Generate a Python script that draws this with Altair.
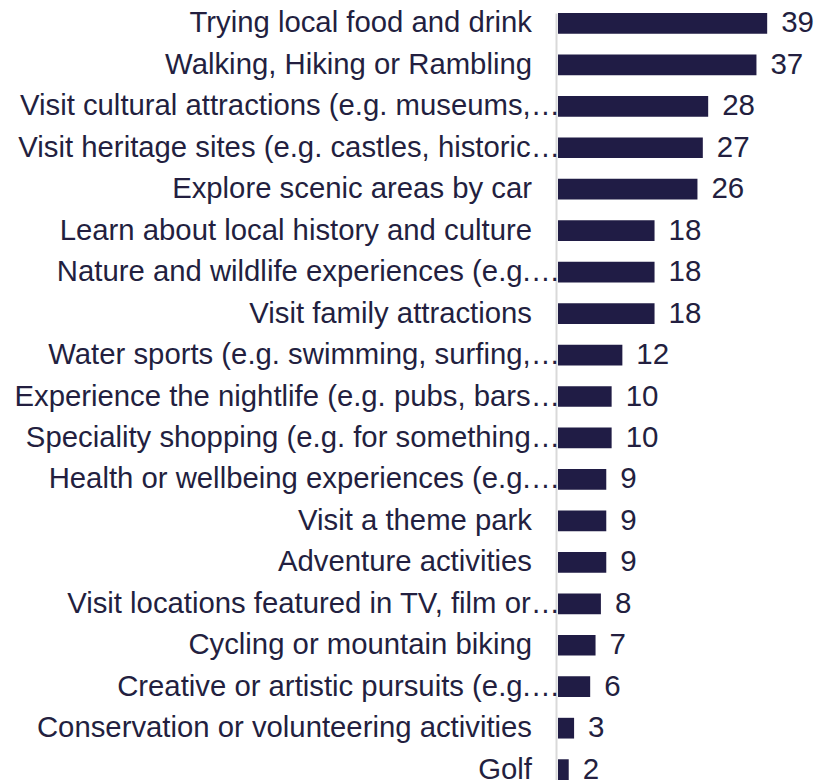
import altair as alt
import pandas as pd

categories = [
    "Trying local food and drink",
    "Walking, Hiking or Rambling",
    "Visit cultural attractions (e.g. museums,…",
    "Visit heritage sites (e.g. castles, historic…",
    "Explore scenic areas by car",
    "Learn about local history and culture",
    "Nature and wildlife experiences (e.g.…",
    "Visit family attractions",
    "Water sports (e.g. swimming, surfing,…",
    "Experience the nightlife (e.g. pubs, bars…",
    "Speciality shopping (e.g. for something…",
    "Health or wellbeing experiences (e.g.…",
    "Visit a theme park",
    "Adventure activities",
    "Visit locations featured in TV, film or…",
    "Cycling or mountain biking",
    "Creative or artistic pursuits (e.g.…",
    "Conservation or volunteering activities",
    "Golf",
]
values = [39, 37, 28, 27, 26, 18, 18, 18, 12, 10, 10, 9, 9, 9, 8, 7, 6, 3, 2]

df = pd.DataFrame({"activity": categories, "pct": values})
df["cut"] = df["activity"].str.endswith("…")

BAR = "#201c45"
TEXT = "#231f40"
FONT = "Liberation Sans"

yscale = alt.Scale(paddingInner=0.5, paddingOuter=0)
xscale = alt.Scale(domain=[0, 44])

y_axis = alt.Axis(
    title=None,
    domain=True,
    domainColor="#d9d9d9",
    domainWidth=2,
    ticks=False,
    labels=False,
    offset=2,
)

Y = alt.Y("activity:N", sort=categories, scale=yscale, axis=y_axis)

base = alt.Chart(df)

bars = base.mark_bar(color=BAR).encode(
    x=alt.X("pct:Q", scale=xscale, axis=None),
    y=Y,
)

values_text = base.mark_text(
    align="left", baseline="middle", dx=14, font=FONT, fontSize=29.5, color=TEXT
).encode(
    x=alt.X("pct:Q", scale=xscale, axis=None),
    y=Y,
    text="pct:Q",
)

full_labels = base.transform_filter("!datum.cut").mark_text(
    align="right", baseline="middle", font=FONT, fontSize=29.3, color=TEXT
).encode(
    x=alt.value(-26),
    y=Y,
    text="activity:N",
)

cut_labels = base.transform_filter("datum.cut").mark_text(
    align="right", baseline="middle", font=FONT, fontSize=29.3, color=TEXT
).encode(
    x=alt.value(2),
    y=Y,
    text="activity:N",
)

chart = (
    (bars + values_text + full_labels + cut_labels)
    .properties(
        width=236,
        height=767,
        autosize=alt.AutoSizeParams(type="none"),
        padding={"left": 550, "top": 5, "right": 20, "bottom": 0},
    )
    .configure_view(stroke=None)
)

chart.save("out.html", embed_options={"renderer": "svg", "actions": False})
